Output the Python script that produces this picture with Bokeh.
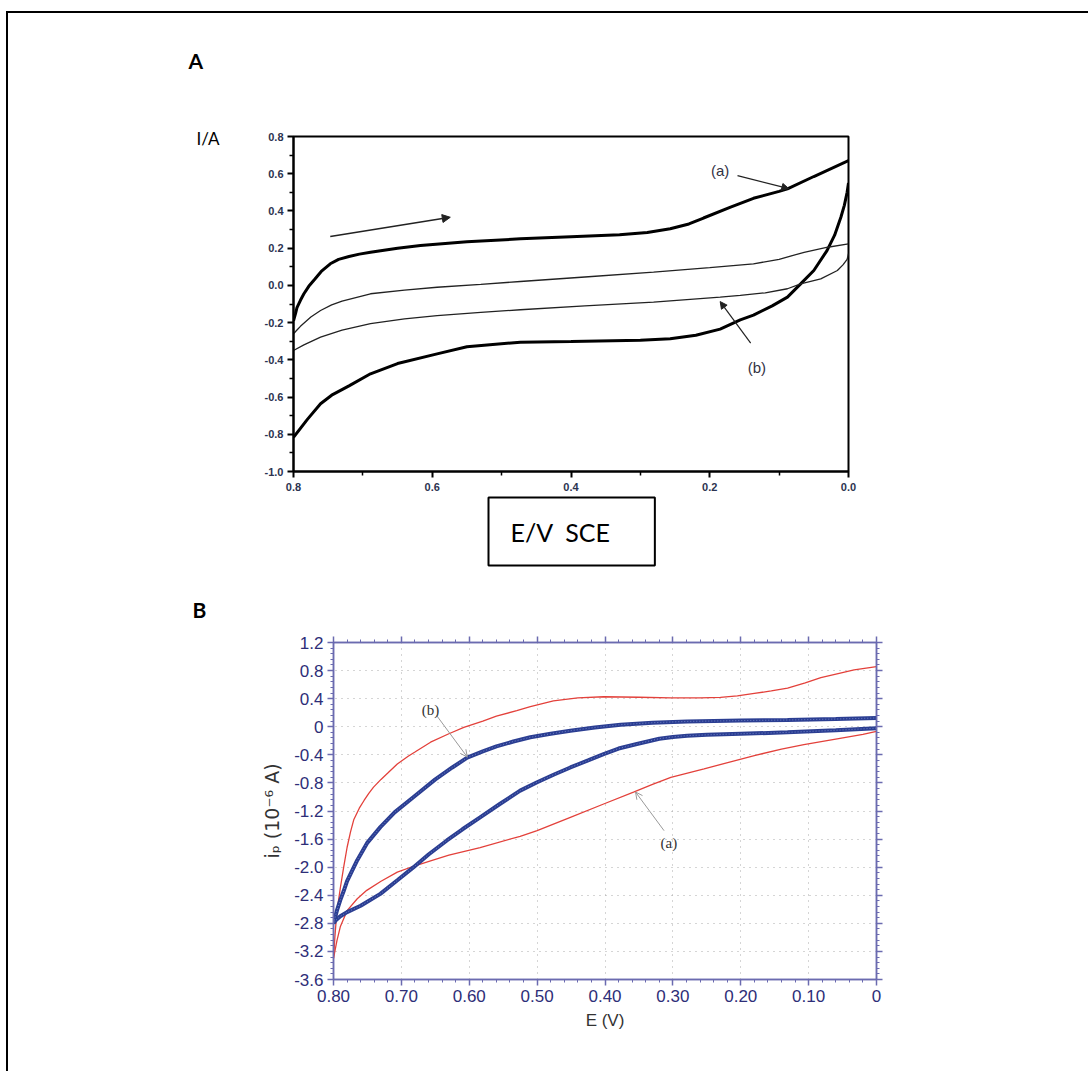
from bokeh.plotting import figure
from bokeh.models import (Range1d, FixedTicker, PrintfTickFormatter, LinearAxis, Label, Title,
                          Arrow, NormalHead, OpenHead, Grid, CustomLabelingPolicy)
from bokeh.embed import file_html
from bokeh.resources import INLINE

# ---------------- Panel A data (E / V vs SCE, I / A) ----------------
a_fwd_x = [0.80, 0.797, 0.795, 0.79, 0.785, 0.778, 0.77, 0.76, 0.747, 0.735, 0.72, 0.705, 0.689, 0.65, 0.617, 0.55, 0.473, 0.40, 0.33, 0.29, 0.257, 0.23, 0.209, 0.17, 0.137, 0.10, 0.088, 0.05, 0.0]
a_fwd_y = [-0.19, -0.15, -0.12, -0.08, -0.045, -0.005, 0.03, 0.075, 0.116, 0.14, 0.155, 0.168, 0.178, 0.20, 0.214, 0.235, 0.25, 0.262, 0.272, 0.284, 0.304, 0.33, 0.362, 0.42, 0.468, 0.505, 0.519, 0.585, 0.671]
a_rev_x = [0.0, 0.002, 0.006, 0.011, 0.02, 0.031, 0.05, 0.069, 0.088, 0.11, 0.137, 0.156, 0.185, 0.22, 0.257, 0.30, 0.40, 0.473, 0.55, 0.593, 0.65, 0.689, 0.72, 0.745, 0.761, 0.78, 0.80]
a_rev_y = [0.55, 0.50, 0.43, 0.366, 0.27, 0.187, 0.08, 0.008, -0.063, -0.11, -0.16, -0.185, -0.235, -0.268, -0.287, -0.295, -0.302, -0.305, -0.33, -0.368, -0.42, -0.475, -0.54, -0.59, -0.636, -0.72, -0.816]
b_fwd_x = [0.80, 0.795, 0.79, 0.775, 0.761, 0.745, 0.73, 0.689, 0.64, 0.593, 0.53, 0.473, 0.38, 0.281, 0.20, 0.137, 0.10, 0.064, 0.03, 0.0]
b_fwd_y = [-0.26, -0.24, -0.22, -0.17, -0.135, -0.105, -0.085, -0.045, -0.025, -0.01, 0.005, 0.021, 0.045, 0.071, 0.095, 0.116, 0.14, 0.178, 0.205, 0.223]
b_rev_x = [0.0, 0.002, 0.008, 0.016, 0.04, 0.069, 0.088, 0.12, 0.156, 0.185, 0.281, 0.38, 0.473, 0.53, 0.593, 0.64, 0.689, 0.73, 0.761, 0.785, 0.80]
b_rev_y = [0.17, 0.14, 0.11, 0.08, 0.035, 0.008, -0.018, -0.04, -0.054, -0.063, -0.09, -0.11, -0.131, -0.145, -0.162, -0.18, -0.206, -0.24, -0.278, -0.32, -0.35]
A_xticks = [0.8, 0.6, 0.4, 0.2, 0.0]
A_yticks = [-1.0, -0.8, -0.6, -0.4, -0.2, 0.0, 0.2, 0.4, 0.6, 0.8]

# ---------------- Panel B data (E / V, ip / 1e-6 A) ----------------
red_fwd_x = [0.80, 0.798, 0.796, 0.793, 0.79, 0.785, 0.78, 0.775, 0.77, 0.762, 0.755, 0.748, 0.741, 0.73, 0.72, 0.706, 0.69, 0.68, 0.657, 0.63, 0.608, 0.58, 0.56, 0.53, 0.51, 0.476, 0.44, 0.402, 0.35, 0.303, 0.26, 0.23, 0.205, 0.18, 0.155, 0.131, 0.105, 0.082, 0.055, 0.033, 0.0]
red_fwd_y = [-3.3, -3.0, -2.75, -2.5, -2.3, -2.0, -1.72, -1.5, -1.32, -1.16, -1.05, -0.95, -0.86, -0.75, -0.66, -0.53, -0.42, -0.36, -0.22, -0.10, -0.01, 0.08, 0.15, 0.23, 0.285, 0.37, 0.41, 0.427, 0.42, 0.41, 0.41, 0.418, 0.44, 0.475, 0.51, 0.55, 0.625, 0.70, 0.76, 0.81, 0.855]
red_rev_x = [0.0, 0.02, 0.058, 0.107, 0.14, 0.18, 0.254, 0.303, 0.33, 0.358, 0.402, 0.451, 0.50, 0.525, 0.584, 0.63, 0.657, 0.68, 0.706, 0.73, 0.751, 0.765, 0.78, 0.79, 0.795, 0.80]
red_rev_y = [-0.066, -0.11, -0.174, -0.255, -0.32, -0.41, -0.60, -0.72, -0.82, -0.93, -1.10, -1.29, -1.48, -1.56, -1.72, -1.83, -1.91, -1.98, -2.07, -2.20, -2.33, -2.45, -2.62, -2.85, -3.05, -3.3]
blue_fwd_x = [0.80, 0.798, 0.795, 0.79, 0.785, 0.78, 0.772, 0.765, 0.75, 0.731, 0.71, 0.682, 0.65, 0.625, 0.603, 0.58, 0.56, 0.535, 0.51, 0.48, 0.451, 0.415, 0.377, 0.33, 0.279, 0.20, 0.131, 0.06, 0.0]
blue_fwd_y = [-2.8, -2.73, -2.62, -2.47, -2.34, -2.2, -2.04, -1.9, -1.65, -1.43, -1.22, -1.0, -0.75, -0.58, -0.44, -0.35, -0.28, -0.21, -0.15, -0.1, -0.056, -0.01, 0.03, 0.058, 0.076, 0.088, 0.096, 0.11, 0.125]
blue_rev_x = [0.0, 0.06, 0.131, 0.20, 0.25, 0.279, 0.30, 0.32, 0.353, 0.38, 0.402, 0.425, 0.451, 0.475, 0.50, 0.525, 0.555, 0.584, 0.61, 0.633, 0.66, 0.682, 0.705, 0.731, 0.76, 0.78, 0.79, 0.797, 0.80]
blue_rev_y = [-0.02, -0.05, -0.08, -0.10, -0.115, -0.127, -0.145, -0.17, -0.245, -0.31, -0.39, -0.48, -0.58, -0.68, -0.79, -0.91, -1.1, -1.29, -1.46, -1.62, -1.82, -2.0, -2.18, -2.38, -2.55, -2.64, -2.7, -2.76, -2.8]
B_xticks = [0.8, 0.7, 0.6, 0.5, 0.4, 0.3, 0.2, 0.1, 0.0]
B_yticks = [-3.6, -3.2, -2.8, -2.4, -2.0, -1.6, -1.2, -0.8, -0.4, 0.0, 0.4, 0.8, 1.2]


def no_labels():
    return CustomLabelingPolicy(code="for (const i of indices) { indices.unset(i) }")


# ======================= Panel A =======================
pa = figure(frame_width=555, frame_height=335, min_border_left=285, min_border_right=240,
            min_border_top=123, min_border_bottom=119,
            x_range=Range1d(0.8, 0.0), y_range=Range1d(-1.0, 0.8),
            output_backend="svg", toolbar_location=None,
            margin=(11, 0, 0, 6),
            styles={"border-left": "2px solid black", "border-top": "2px solid black"})
pa.title.visible = False
pa.grid.visible = False
pa.outline_line_color = "black"
pa.outline_line_width = 2
for ax in (pa.xaxis[0], pa.yaxis[0]):
    ax.axis_line_color = "black"
    ax.axis_line_width = 2
    ax.major_tick_line_color = "black"
    ax.minor_tick_line_color = "black"
    ax.major_tick_line_width = 2
    ax.minor_tick_line_width = 1.5
    ax.major_tick_out = 6
    ax.major_tick_in = 0
    ax.minor_tick_out = 4
    ax.minor_tick_in = 0
    ax.major_label_text_font = "Liberation Sans"
    ax.major_label_text_font_style = "bold"
    ax.major_label_text_font_size = "11px"
    ax.major_label_text_color = "#2c3350"
    ax.formatter = PrintfTickFormatter(format="%.1f")
pa.xaxis[0].ticker = FixedTicker(ticks=A_xticks, minor_ticks=[0.7, 0.5, 0.3, 0.1])
pa.yaxis[0].ticker = FixedTicker(ticks=A_yticks,
                                 minor_ticks=[-0.9, -0.7, -0.5, -0.3, -0.1, 0.1, 0.3, 0.5, 0.7])
pa.xaxis[0].major_label_standoff = 5
pa.yaxis[0].major_label_standoff = 4

# "I/A" quantity label, placed as a lone tick label on an outer left axis
ia_axis = LinearAxis(ticker=FixedTicker(ticks=[0.79], minor_ticks=[]),
                     major_label_overrides={0.79: "I/A"})
ia_axis.axis_line_color = None
ia_axis.major_tick_line_color = None
ia_axis.minor_tick_line_color = None
ia_axis.major_label_text_font = "Lato"
ia_axis.major_label_text_font_size = "17px"
ia_axis.major_label_text_color = "black"
ia_axis.major_label_standoff = 36
pa.add_layout(ia_axis, "left")

# invisible spacer on top so that the panel letter sits higher
spacer = LinearAxis(major_label_policy=no_labels(), major_tick_out=53, major_tick_in=0,
                    minor_tick_out=0, major_label_standoff=0)
spacer.axis_line_color = None
spacer.major_tick_line_color = None
spacer.minor_tick_line_color = None
pa.add_layout(spacer, "above")

pa.line(a_fwd_x, a_fwd_y, line_color="black", line_width=3)
pa.line(a_rev_x, a_rev_y, line_color="black", line_width=3)
pa.line(b_fwd_x, b_fwd_y, line_color="#222222", line_width=1.3)
pa.line(b_rev_x, b_rev_y, line_color="#222222", line_width=1.3)

pa.add_layout(Arrow(x_start=0.747, y_start=0.263, x_end=0.574, y_end=0.366,
                    line_color="#222222", line_width=1.5,
                    end=NormalHead(size=8, fill_color="#222222", line_color="#222222")))
pa.add_layout(Arrow(x_start=0.16, y_start=0.59, x_end=0.086, y_end=0.52,
                    line_color="#222222", line_width=1.2,
                    end=NormalHead(size=7, fill_color="#222222", line_color="#222222")))
pa.add_layout(Arrow(x_start=0.141, y_start=-0.31, x_end=0.185, y_end=-0.087,
                    line_color="#222222", line_width=1.2,
                    end=NormalHead(size=7, fill_color="#222222", line_color="#222222")))
pa.add_layout(Label(x=0.185, y=0.617, text="(a)", text_align="center", text_baseline="middle",
                    text_font="Liberation Sans", text_font_size="15px", text_color="#333344"))
pa.add_layout(Label(x=0.132, y=-0.44, text="(b)", text_align="center", text_baseline="middle",
                    text_font="Liberation Sans", text_font_size="15px", text_color="#333344"))

pa.add_layout(Title(text="A", align="left", offset=-105, standoff=0,
                    text_font="Lato", text_font_style="bold", text_font_size="21px",
                    text_color="black"), "above")
pa.add_layout(Title(text="E/V\u00a0\u00a0SCE", align="left", offset=195, standoff=4,
                    text_font="Lato", text_font_style="normal", text_font_size="25px",
                    text_color="black", border_line_color="black", border_line_width=2,
                    padding=dict(left=22, right=45, top=19, bottom=19)), "below")

# ======================= Panel B =======================
axis_col = "#6b6bb0"
lab_col = "#2e2e78"
pb = figure(frame_width=543, frame_height=337, min_border_left=325, min_border_right=212,
            min_border_top=52, min_border_bottom=92,
            x_range=Range1d(0.8, 0.0), y_range=Range1d(-3.6, 1.2),
            output_backend="svg", toolbar_location=None,
            margin=(0, 0, 0, 6), styles={"border-left": "2px solid black"})
pb.title.visible = False
pb.outline_line_color = axis_col
pb.outline_line_width = 1.5
pb.add_layout(LinearAxis(major_label_policy=no_labels()), "above")
pb.add_layout(LinearAxis(major_label_policy=no_labels()), "right")
xt = FixedTicker(ticks=B_xticks, minor_ticks=[round(0.02 * i, 2) for i in range(41)])
yt = FixedTicker(ticks=B_yticks, minor_ticks=[round(-3.6 + 0.08 * i, 2) for i in range(61)])
for ax in pb.xaxis:
    ax.ticker = xt
for ax in pb.yaxis:
    ax.ticker = yt
for ax in pb.xaxis + pb.yaxis:
    ax.axis_line_color = axis_col
    ax.axis_line_width = 1.5
    ax.major_tick_line_color = axis_col
    ax.minor_tick_line_color = axis_col
    ax.major_tick_line_width = 1.5
    ax.minor_tick_line_width = 1
    ax.major_tick_out = 6
    ax.major_tick_in = 0
    ax.minor_tick_out = 3
    ax.minor_tick_in = 0
    ax.major_label_text_font = "Liberation Sans"
    ax.major_label_text_font_size = "17px"
    ax.major_label_text_color = lab_col
for ax in (pb.above[0], pb.right[0]):
    ax.major_label_standoff = 0
xb = pb.below[0]
yl = pb.left[0]
xb.formatter = PrintfTickFormatter(format="%.2f")
xb.major_label_overrides = {0.0: "0"}
yl.formatter = PrintfTickFormatter(format="%.1f")
yl.major_label_overrides = {0.0: "0"}
xb.major_label_standoff = 4
yl.major_label_standoff = 4
xb.axis_label = "E (V)"
xb.axis_label_text_font = "Liberation Sans"
xb.axis_label_text_font_style = "normal"
xb.axis_label_text_font_size = "17px"
xb.axis_label_text_color = "#333333"
xb.axis_label_standoff = 6
yl.axis_label = "iₚ (10⁻⁶ A)"
yl.axis_label_text_font = "DejaVu Sans"
yl.axis_label_text_font_style = "normal"
yl.axis_label_text_font_size = "19px"
yl.axis_label_text_color = "#333333"
yl.axis_label_standoff = 8
pb.grid.visible = False
pb.add_layout(Grid(dimension=0, ticker=FixedTicker(ticks=B_xticks), grid_line_color="#aaaaaa",
                   grid_line_dash="1 5", grid_line_width=1))
pb.add_layout(Grid(dimension=1, ticker=FixedTicker(ticks=B_yticks), grid_line_color="#aaaaaa",
                   grid_line_dash="1 5", grid_line_width=1))

pb.line(red_fwd_x, red_fwd_y, line_color="#e3413b", line_width=1.3)
pb.line(red_rev_x, red_rev_y, line_color="#e3413b", line_width=1.3)
pb.line(blue_fwd_x, blue_fwd_y, line_color="#2b3e92", line_width=4)
pb.line(blue_rev_x, blue_rev_y, line_color="#2b3e92", line_width=4)
pb.line(blue_fwd_x, blue_fwd_y, line_color="#6f82c8", line_width=1, line_dash="1 2")
pb.line(blue_rev_x, blue_rev_y, line_color="#6f82c8", line_width=1, line_dash="1 2")

pb.add_layout(Arrow(x_start=0.648, y_start=0.16, x_end=0.603, y_end=-0.43,
                    line_color="#9a9a9a", line_width=1,
                    end=OpenHead(size=7, line_color="#9a9a9a", line_width=1)))
pb.add_layout(Arrow(x_start=0.313, y_start=-1.48, x_end=0.355, y_end=-0.93,
                    line_color="#9a9a9a", line_width=1,
                    end=OpenHead(size=7, line_color="#9a9a9a", line_width=1)))
pb.add_layout(Label(x=0.657, y=0.24, text="(b)", text_align="center", text_baseline="middle",
                    text_font="Liberation Serif", text_font_size="15px", text_color="#333333"))
pb.add_layout(Label(x=0.306, y=-1.66, text="(a)", text_align="center", text_baseline="middle",
                    text_font="Liberation Serif", text_font_size="15px", text_color="#333333"))
pb.add_layout(Title(text="B", align="left", offset=-141, standoff=0,
                    text_font="Lato", text_font_style="bold", text_font_size="21px",
                    text_color="black"), "above")

open("out.html", "w").write(file_html([pa, pb], INLINE))
